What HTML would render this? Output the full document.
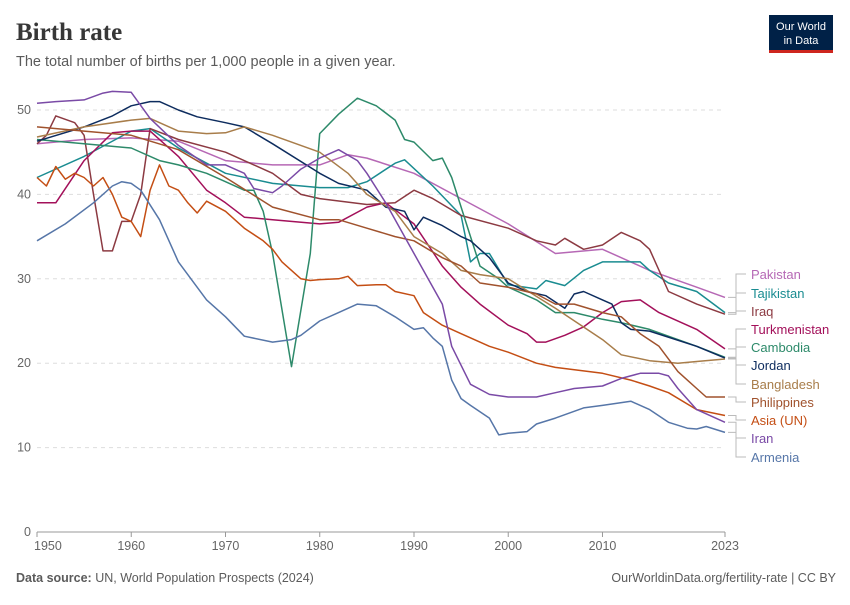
<!DOCTYPE html>
<html><head><meta charset="utf-8"><style>
body{margin:0;background:#fff;width:850px;height:600px;overflow:hidden;font-family:"Liberation Sans",sans-serif}
</style></head><body>
<svg width="850" height="600" xmlns="http://www.w3.org/2000/svg">
<text x="16" y="40" font-family="Liberation Serif,serif" font-size="25" font-weight="bold" fill="#373737">Birth rate</text>
<text x="16" y="66" font-size="14.5" fill="#5b5b5b">The total number of births per 1,000 people in a given year.</text>
<g>
<rect x="769" y="15" width="64" height="37" fill="#002147"/>
<rect x="769" y="50" width="64" height="3" fill="#ce261e"/>
<text x="801" y="30" font-size="11" fill="#fff" text-anchor="middle">Our World</text>
<text x="801" y="44" font-size="11" fill="#fff" text-anchor="middle">in Data</text>
</g>
<g id="grid"></g><g id="lines"></g><g id="labels"></g>
<text x="16" y="582" font-size="12.5" fill="#5b5b5b"><tspan font-weight="bold">Data source:</tspan> UN, World Population Prospects (2024)</text>
<text x="836" y="582" font-size="12.5" fill="#5b5b5b" text-anchor="end">OurWorldinData.org/fertility-rate | CC BY</text>
</svg>
<script>
const yTicks=[0,10,20,30,40,50];
const xTicks=[1950,1960,1970,1980,1990,2000,2010,2023];
const xTickLabels=["1950","1960","1970","1980","1990","2000","2010","2023"];
const seriesNames=["Pakistan","Tajikistan","Iraq","Turkmenistan","Cambodia","Jordan","Bangladesh","Philippines","Asia (UN)","Iran","Armenia"];
const seriesColors=["#b668b5","#1a8c91","#8c3a42","#a3105a","#2d8a6a","#0d2c5e","#a87d4a","#a0522d","#c44e14","#7a4aa6","#5676a8"];
const pakistan=[[1950,46],[1955,46.5],[1960,46.7],[1965,46.3],[1970,44],[1975,43.5],[1980,43.5],[1983,44.7],[1985,44.3],[1990,42.5],[1995,39.5],[2000,36.5],[2005,33],[2010,33.5],[2015,31],[2020,29],[2023,27.8]];
const tajikistan=[[1950,42],[1955,44.5],[1960,47.5],[1962,47.8],[1965,45.5],[1970,42.5],[1975,41.3],[1980,40.8],[1983,40.8],[1985,41.5],[1988,43.7],[1989,44.1],[1992,41],[1995,37.5],[1996,32],[1997,33],[1998,33],[2000,29.3],[2003,28.8],[2004,29.8],[2006,29.2],[2008,31],[2010,32],[2014,32],[2015,31],[2017,29.5],[2020,28.5],[2023,26]];
const iraq=[[1950,46],[1951,47],[1952,49.3],[1954,48.5],[1955,47],[1956,40],[1957,33.3],[1958,33.3],[1959,36.8],[1960,36.8],[1961,40],[1962,47.8],[1965,46.5],[1970,45],[1975,42.5],[1978,40],[1980,39.5],[1985,38.8],[1988,39],[1990,40.5],[1992,39.5],[1995,37.5],[2000,36],[2003,34.5],[2005,34],[2006,34.8],[2008,33.5],[2010,34],[2012,35.5],[2014,34.5],[2015,33.5],[2017,28.5],[2020,27],[2023,25.8]];
const turkmenistan=[[1950,39],[1952,39],[1955,44],[1958,47.3],[1960,47.5],[1962,47.5],[1965,44.5],[1968,40.5],[1970,39],[1972,37.3],[1975,37],[1980,36.5],[1982,36.7],[1985,38.5],[1987,39],[1990,36.5],[1993,31.5],[1995,29],[1997,27],[2000,24.5],[2002,23.5],[2003,22.5],[2004,22.5],[2006,23.3],[2008,24.3],[2010,26],[2012,27.3],[2014,27.5],[2016,26],[2020,24],[2023,21.7]];
const cambodia=[[1950,46.5],[1955,46],[1960,45.5],[1963,44],[1965,43.5],[1968,42.5],[1970,41.5],[1972,40.5],[1973,40.5],[1974,38],[1975,33],[1977,19.6],[1979,33],[1980,47.2],[1982,49.5],[1984,51.4],[1986,50.5],[1988,48.8],[1989,46.5],[1990,46.2],[1992,44],[1993,44.3],[1994,42],[1996,35],[1997,31.5],[1999,30],[2000,29],[2003,27.5],[2005,26],[2007,26],[2010,25.2],[2012,24.8],[2015,24],[2020,22],[2023,20.7]];
const jordan=[[1950,46.3],[1955,48],[1958,49.3],[1960,50.5],[1962,51],[1963,51],[1965,50],[1967,49.2],[1970,48.5],[1972,48],[1975,46],[1980,42.5],[1982,41.3],[1985,40.5],[1987,38.5],[1989,38],[1990,35.8],[1991,37.3],[1993,36.3],[1995,35],[1996,34.5],[1998,32.5],[2000,29.5],[2002,28.5],[2004,28],[2006,26.5],[2007,28.2],[2008,28.5],[2010,27.5],[2011,27],[2012,24.8],[2013,24],[2015,23.8],[2020,22],[2023,20.6]];
const bangladesh=[[1950,46.8],[1955,48],[1960,48.8],[1962,49],[1965,47.5],[1968,47.2],[1970,47.3],[1972,48],[1975,47],[1980,45],[1983,42.5],[1985,40],[1988,38],[1990,35],[1993,33],[1995,31],[1997,30.5],[2000,30],[2005,26.5],[2010,22.8],[2012,21],[2015,20.3],[2018,20],[2020,20.2],[2023,20.5]];
const philippines=[[1950,48],[1955,47.5],[1960,47],[1965,45.3],[1970,42],[1975,38.5],[1980,37],[1982,37],[1985,36],[1988,35],[1990,34.5],[1993,32.5],[1995,31.5],[1997,29.5],[2000,29],[2003,28.2],[2005,27],[2007,27],[2010,26],[2012,25.5],[2014,23.5],[2016,22],[2018,19],[2020,17],[2021,16],[2023,16]];
const asia=[[1950,42],[1951,41],[1952,43.3],[1953,41.8],[1954,42.5],[1955,42],[1956,41],[1957,42],[1958,40],[1959,37.3],[1960,36.8],[1961,35],[1962,40.5],[1963,43.5],[1964,41],[1965,40.5],[1966,39],[1967,37.8],[1968,39.2],[1970,38],[1972,36],[1974,34.5],[1975,33.5],[1976,32],[1978,30],[1979,29.8],[1980,29.9],[1982,30],[1983,30.3],[1984,29.2],[1986,29.3],[1987,29.3],[1988,28.5],[1990,28],[1991,26],[1993,24.5],[1995,23.5],[1998,22],[2000,21.3],[2003,20],[2005,19.5],[2010,18.8],[2013,18],[2015,17.3],[2017,16.5],[2020,14.5],[2023,13.8]];
const iran=[[1950,50.8],[1952,51],[1955,51.2],[1957,52],[1958,52.2],[1960,52.1],[1962,49],[1965,45.8],[1968,43.5],[1970,43.5],[1972,42.5],[1973,40.7],[1975,40.2],[1976,41],[1978,43],[1980,44.3],[1982,45.3],[1984,44],[1985,42.5],[1987,39],[1990,33],[1993,27],[1994,22],[1996,17.5],[1998,16.3],[2000,16],[2003,16],[2005,16.5],[2007,17],[2010,17.3],[2012,18.2],[2014,18.8],[2016,18.8],[2017,18.5],[2018,17],[2020,14.5],[2023,13]];
const armenia=[[1950,34.5],[1953,36.5],[1956,39],[1958,41],[1959,41.5],[1960,41.3],[1961,40.5],[1963,37],[1965,32],[1968,27.5],[1970,25.5],[1972,23.2],[1975,22.5],[1977,22.8],[1978,23.3],[1980,25],[1982,26],[1984,27],[1986,26.8],[1988,25.5],[1990,24],[1991,24.2],[1992,23],[1993,22],[1994,18],[1995,15.8],[1996,15],[1998,13.5],[1999,11.5],[2000,11.7],[2002,11.9],[2003,12.8],[2005,13.5],[2008,14.7],[2010,15],[2013,15.5],[2015,14.5],[2017,13],[2019,12.3],[2020,12.2],[2021,12.5],[2023,11.8]];
const allSeries=[pakistan,tajikistan,iraq,turkmenistan,cambodia,jordan,bangladesh,philippines,asia,iran,armenia];
const labelY=[278,297,315,333,351,369,388,406,424,442,461];

const NS="http://www.w3.org/2000/svg";
const X0=37,X1=725,Y0=532,Y50=110;
const xs=yr=>X0+(yr-1950)*(X1-X0)/73;
const ys=v=>Y0-v*(Y0-Y50)/50;
function mk(tag,attrs,parent){const e=document.createElementNS(NS,tag);for(const k in attrs)e.setAttribute(k,attrs[k]);parent.appendChild(e);return e;}
const grid=document.getElementById('grid');
yTicks.forEach(t=>{
  const l=mk('line',{x1:X0,x2:X1,y1:ys(t),y2:ys(t),stroke:t===0?'#999':'#ddd','stroke-dasharray':t===0?'':'4,4'},grid);
  
  
  const tx=mk('text',{x:31,y:ys(t)+4,'font-size':12.5,fill:'#666','text-anchor':'end'},grid);
  tx.textContent=t;
  
  
});
xTicks.forEach((t,i)=>{
  mk('line',{x1:xs(t),x2:xs(t),y1:Y0,y2:Y0+5,stroke:'#999'},grid);
  const tx=mk('text',{x:xs(t),y:Y0+18,'font-size':12.5,fill:'#666','text-anchor':i===0?'start':'middle'},grid);
  if(i===0)tx.setAttribute('x',X0-3);
  tx.textContent=xTickLabels[i];
  
  
});
const lines=document.getElementById('lines'),labs=document.getElementById('labels');
allSeries.forEach((s,i)=>{
  const p=mk('polyline',{points:s.map(d=>xs(d[0]).toFixed(1)+','+ys(d[1]).toFixed(1)).join(' '),fill:'none',stroke:seriesColors[i],'stroke-width':1.5,'stroke-linejoin':'round'},lines);
  
  
  const endY=ys(s[s.length-1][1]);
  const c=mk('polyline',{points:`${X1+3},${endY.toFixed(1)} ${X1+11},${endY.toFixed(1)} ${X1+11},${labelY[i]-4} ${X1+21},${labelY[i]-4}`,fill:'none',stroke:'#bbb','stroke-width':1},labs);
  
  
  const t=mk('text',{x:751,y:labelY[i]+1,'font-size':13,fill:seriesColors[i]},labs);
  t.textContent=seriesNames[i];
  
  
});
</script>
</body></html>
